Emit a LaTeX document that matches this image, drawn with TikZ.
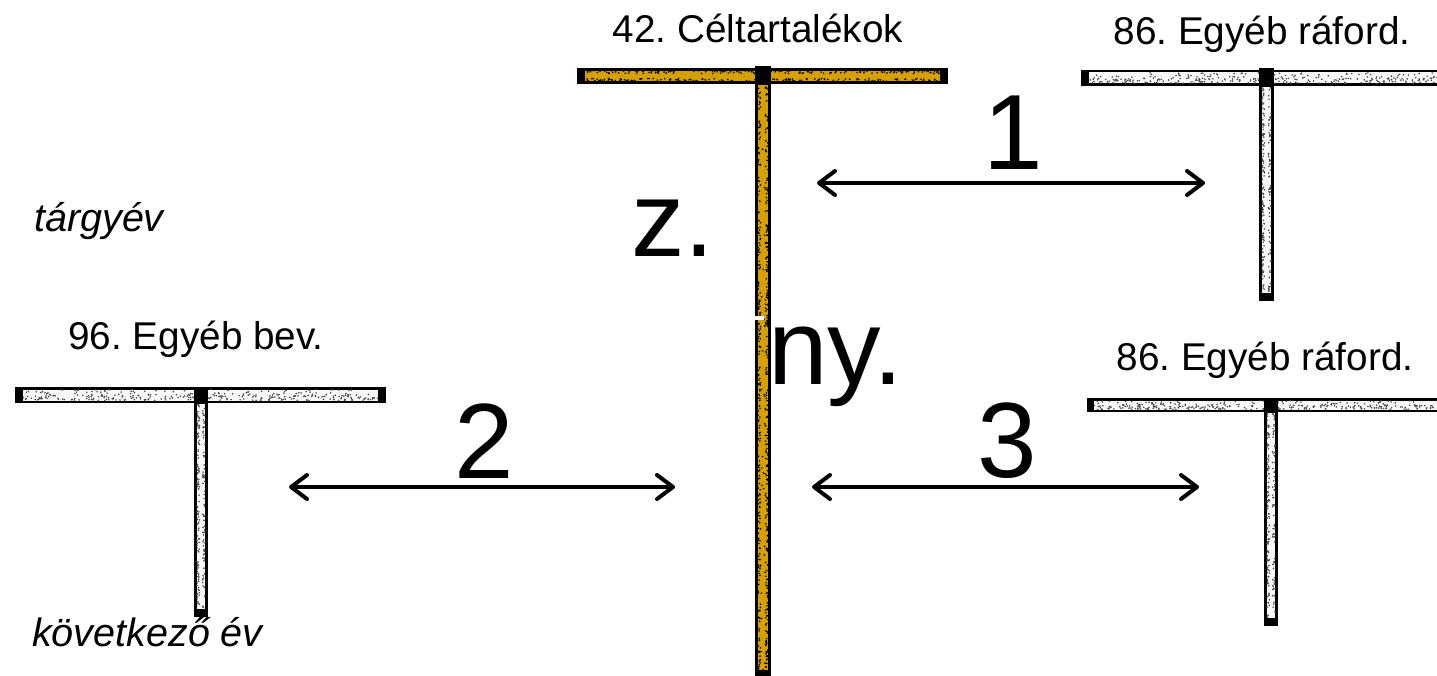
\documentclass[tikz,border=0pt]{standalone}
\usepackage{fontspec}
\setmainfont{Liberation Sans}
\usetikzlibrary{arrows.meta}
\frenchspacing
\definecolor{goldT}{RGB}{214,160,0}
\definecolor{speckG}{RGB}{80,80,80}
\definecolor{paleT}{RGB}{248,248,248}
\newcommand{\myspecks}[6]{%
  \foreach \k in {1,...,#6}{%
    \pgfmathsetmacro\spx{#1+rnd*(#3-#1)}%
    \pgfmathsetmacro\spy{#2+rnd*(#4-#2)}%
    \fill[#5] (\spx,\spy) circle (0.9pt);
  }}
\tikzset{
  lbl/.style={inner sep=0pt, font=\fontsize{38.7}{46}\selectfont},
  lblit/.style={inner sep=0pt, font=\fontsize{39.5}{46}\selectfont\itshape},
  big/.style={inner sep=0pt, font=\fontsize{107}{120}\selectfont},
  arr/.style={line width=4pt, line cap=round,
    {Straight Barb[length=16pt,width=24pt,line cap=round,line join=round]}-{Straight Barb[length=16pt,width=24pt,line cap=round,line join=round]}},
  edge/.style={fill=black},
}
\begin{document}
\begin{tikzpicture}[x=1pt,y=-1pt]
\clip (0,0) rectangle (1437,676);
\fill[white] (0,0) rectangle (1437,676);
\pgfmathsetseed{42}

% ---- gold T (42. Céltartalékok)
\fill[edge] (577,68) rectangle (948,84);
\fill[goldT] (585,71) rectangle (940,81);
\myspecks{585}{70.5}{940}{73.5}{black}{160}
\myspecks{585}{78.5}{940}{81.5}{black}{160}
\fill[edge] (755,66) rectangle (771,676);
\fill[goldT] (758,85) rectangle (768,670);
\myspecks{758}{85}{760.5}{670}{black}{220}
\myspecks{765.5}{85}{768}{670}{black}{220}
\myspecks{758}{85}{768}{670}{black}{60}
\fill[white] (755,316) rectangle (764,320);

% ---- top-right white T
\fill[edge] (1081,70) rectangle (1445,86);
\fill[paleT] (1089,72.5) rectangle (1445,83.5);
\myspecks{1089}{72.5}{1445}{78}{speckG}{90}
\myspecks{1089}{78}{1445}{83.5}{speckG}{220}
\fill[edge] (1259,68) rectangle (1274,301);
\fill[paleT] (1262,87) rectangle (1271,293);
\myspecks{1262}{87}{1264.5}{293}{speckG}{120}
\myspecks{1268.5}{87}{1271}{293}{speckG}{80}

% ---- left white T
\fill[edge] (15,387) rectangle (386,403);
\fill[paleT] (23,389.5) rectangle (378,400.5);
\myspecks{23}{389.5}{378}{395}{speckG}{90}
\myspecks{23}{395}{378}{400.5}{speckG}{220}
\fill[edge] (194,387) rectangle (208,617);
\fill[paleT] (197,404) rectangle (205,609);
\myspecks{197}{404}{199.5}{609}{speckG}{120}
\myspecks{202.5}{404}{205}{609}{speckG}{80}

% ---- bottom-right white T
\fill[edge] (1087,398) rectangle (1445,412);
\fill[paleT] (1094,400.5) rectangle (1445,409.5);
\myspecks{1094}{400.5}{1445}{405}{speckG}{90}
\myspecks{1094}{405}{1445}{409.5}{speckG}{220}
\fill[edge] (1264,398) rectangle (1278,626);
\fill[paleT] (1267,413) rectangle (1275,618);
\myspecks{1267}{413}{1269.5}{618}{speckG}{120}
\myspecks{1272.5}{413}{1275}{618}{speckG}{80}

% ---- labels
\node[lbl, anchor=base] (celt) at (758,43) {42. Céltartalékok};
\node[lbl, anchor=base] (rafA) at (1262,45) {86. Egyéb ráford.};
\node[lbl, anchor=base] (rafB) at (1265,370) {86. Egyéb ráford.};
\node[lbl, anchor=base] (bev) at (196,349) {96. Egyéb bev.};
\node[lblit, anchor=base west] (targy) at (34,232) {tárgyév};
\node[lblit, anchor=base west] (kov) at (32,646) {következő év};
\node[big, anchor=base] (n1) at (1013,170) {1};
\node[big, anchor=base] (n2) at (484,478) {2};
\node[big, anchor=base] (n3) at (1007,477) {3};
\node[big, anchor=base west] (zz) at (631,257) {z.};
\node[big, anchor=base west] (ny) at (768,384) {ny.};

% ---- arrows
\coordinate (a1l) at (817,183);
\coordinate (a1r) at (1205,183);
\coordinate (a2l) at (289,487);
\coordinate (a2r) at (675,487);
\coordinate (a3l) at (812,487);
\coordinate (a3r) at (1199,487);
\draw[arr] (a1l) -- (a1r);
\draw[arr] (a2l) -- (a2r);
\draw[arr] (a3l) -- (a3r);
\end{tikzpicture}
\end{document}
